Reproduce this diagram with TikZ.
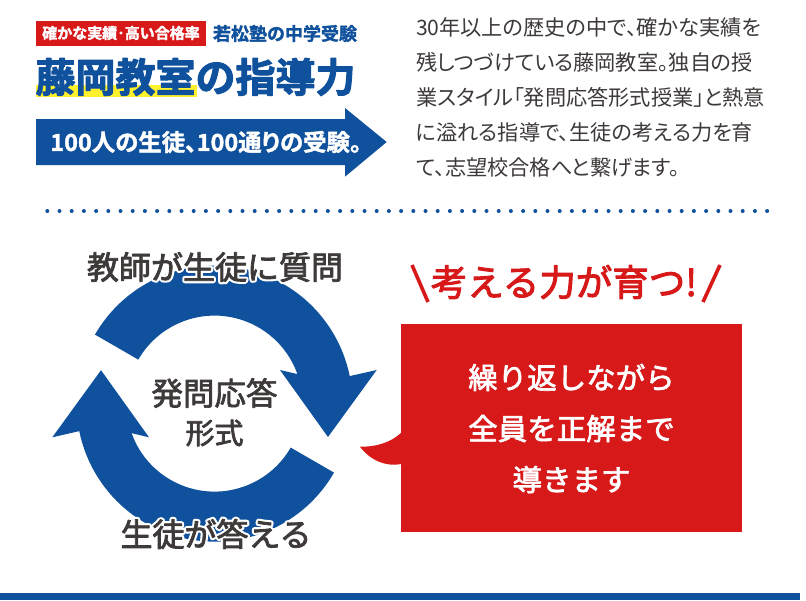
\documentclass[tikz,border=0pt]{standalone}
\usepackage{fontspec}
\setmainfont{Noto Sans CJK JP}
\newfontfamily\reg{Noto Sans CJK JP}
\newfontfamily\pal[RawFeature={+palt}]{Noto Sans CJK JP}
\newfontfamily\bld{Noto Sans CJK JP Bold}
\newfontfamily\bldp[RawFeature={+palt}]{Noto Sans CJK JP Bold}
\definecolor{kblue}{HTML}{0F519C}
\definecolor{kred}{HTML}{D7191A}
\definecolor{kyellow}{HTML}{FFF22D}
\definecolor{kgray}{HTML}{3E3A39}
\newcommand{\fs}[1]{\fontsize{#1}{#1}\selectfont}
\newcommand{\emb}[2]{\special{pdf:code q 2 Tr #1 w 1 j}#2\special{pdf:code Q}}
\newcommand{\halotext}[2]{\rlap{\color{white}\special{pdf:code q 2 Tr 5 w 1 j 1 1 1 RG 1 1 1 rg}#2\special{pdf:code Q}}\emb{#1}{#2}}
\tikzset{
  lbl/.style={inner sep=0pt,outer sep=0pt,anchor=center},
  cyc/.style={lbl,text=kgray,font=\reg\fs{32}},
  cent/.style={lbl,text=kgray,font=\reg\fs{31.5}},
  wave/.style={line width=3.6pt,draw=kred},
}
\begin{document}
\begin{tikzpicture}[x=1pt,y=-1pt]
\useasboundingbox (0,0) rectangle (806,600);
\fill[white] (0,0) rectangle (806,600);
% header
\node[fill=kred,minimum width=170pt,minimum height=25pt,lbl,text=white,font=\bld\fs{15}] (badge) at (121,33) {\emb{0.3}{確かな実績･高い合格率}};
\node[lbl,text=kblue,font=\bld\fs{18}] (juku) at (285,33.5) {\emb{0.3}{若松塾の中学受験}};
\fill[kyellow] (36,85) rectangle (197,97);
\node[lbl,text=kblue,font=\bld\fs{40}] (title) at (195.5,77) {\emb{1}{藤岡教室の指導力}};
\fill[kblue] (36,119) -- (345,119) -- (345,108) -- (386.7,142) -- (345,176.7) -- (345,165) -- (36,165) -- cycle;
\node[lbl,text=white,font=\bldp\fs{23.4}] (slogan) at (206,142) {\emb{0.4}{100人の生徒、100通りの受験。}};
\node[lbl,anchor=north west,text=kgray,align=left,font=\pal\fontsize{21.2}{35}\selectfont] (para) at (416,17.5) {30年以上の歴史の中で、確かな実績を\\残しつづけている藤岡教室。独自の授\\業スタイル「発問応答形式授業」と熱意\\に溢れる指導で、生徒の考える力を育\\て、志望校合格へと繋げます。};
\draw[kblue,line width=4pt,line cap=round,dash pattern=on 0pt off 12.2pt] (47.3,211) -- (770,211);
% cycle
\coordinate (c) at (214.5,403.6);
\fill[kblue] ([shift={(150:138pt)}]c) arc[start angle=150,end angle=11.5,radius=138pt] -- (376.7,370) -- (328,437) -- (280,370) -- ([shift={(19.6:88pt)}]c) arc[start angle=19.6,end angle=150,radius=88pt] -- cycle;
\fill[kblue] ([shift={(330:138pt)}]c) arc[start angle=330,end angle=191.5,radius=138pt] -- (52.3,437.3) -- (101,370.2) -- (149,437.3) -- ([shift={(199.6:88pt)}]c) arc[start angle=199.6,end angle=330,radius=88pt] -- cycle;
\node[cyc] (ask) at (215,267) {\halotext{0.8}{教師が生徒に質問}};
\node[cyc] (ans) at (216,534) {\halotext{0.8}{生徒が答える}};
\node[cent] (m1) at (214.5,393) {\emb{0.7}{発問応答}};
\node[cent,font=\reg\fs{29}] (m2) at (214.5,433) {\emb{0.7}{形式}};
% right
\node[lbl,text=kred,font=\reg\fs{36.5}] (grow) at (564,282) {\emb{1}{考える力が育つ!}};
\draw[wave] (412,265) -- (428,302);
\draw[wave] (720,265) -- (703,302);
\node[lbl,fill=kred,minimum width=341.6pt,minimum height=207.4pt] (box) at (571.5,428) {};
\fill[kred] (401,433) .. controls (390,443) and (375,447) .. (360,446.7) .. controls (370,460) and (385,467) .. (401,464) -- cycle;
\node[lbl,text=white,align=center,font=\reg\fontsize{29.5}{51}\selectfont] (boxtext) at (571.5,428.5) {\emb{0.7}{繰り返しながら}\\\emb{0.7}{全員を正解まで}\\\emb{0.7}{導きます}};
% bottom
\fill[kblue] (0,593) rectangle (800,599.5);
\end{tikzpicture}
\end{document}
